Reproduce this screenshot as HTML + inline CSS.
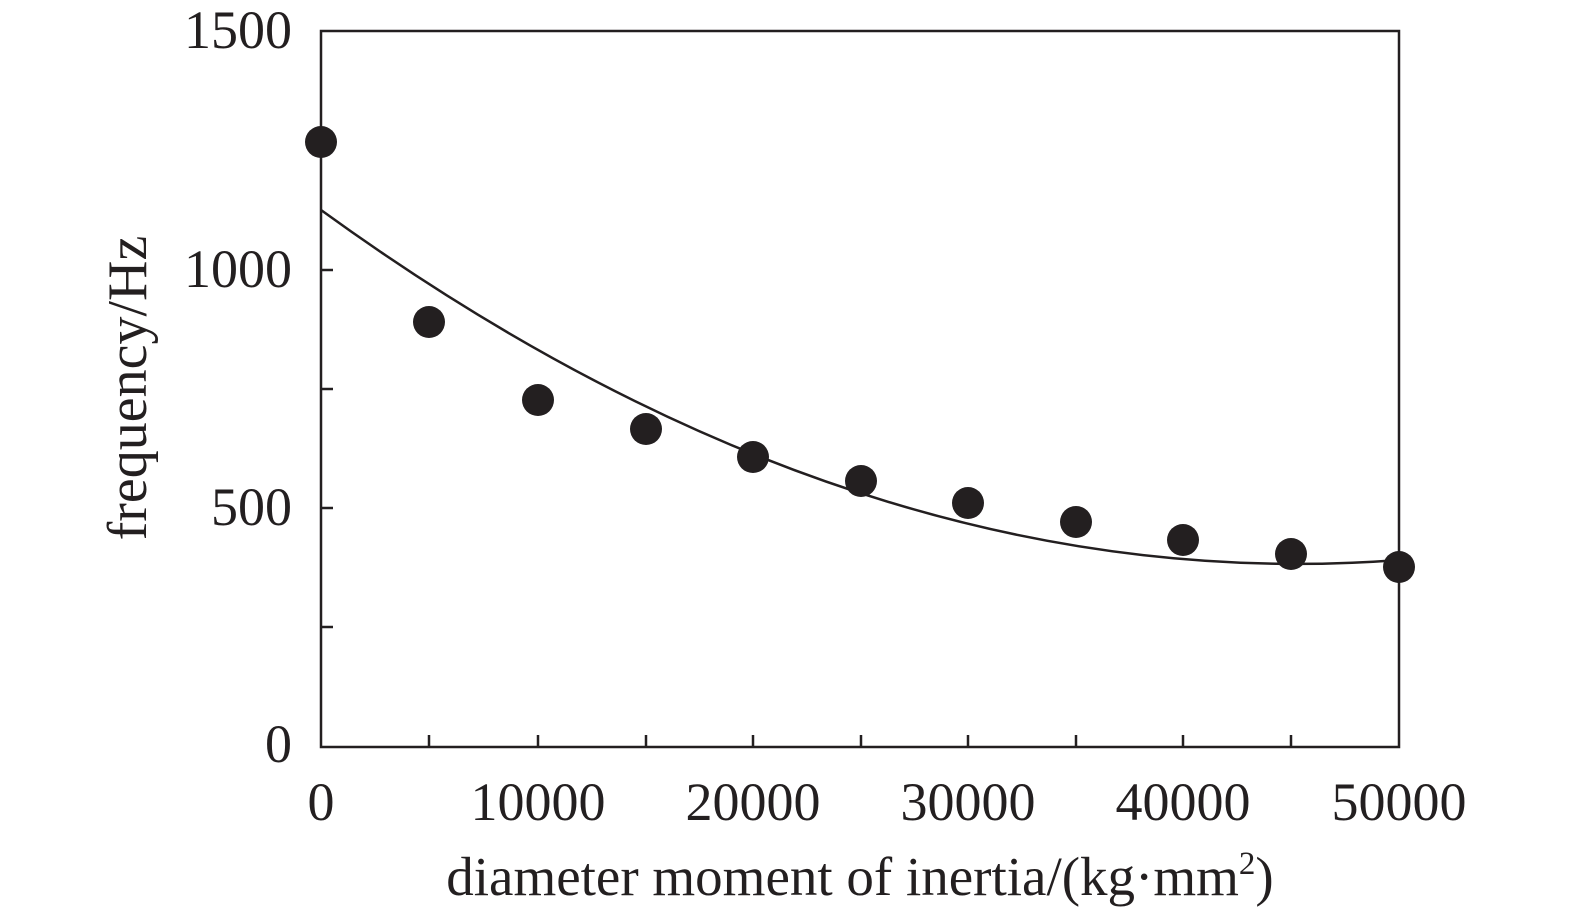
<!DOCTYPE html>
<html><head><meta charset="utf-8"><style>
html,body{margin:0;padding:0;background:#fff;}
svg{display:block;}
text{font-family:"Liberation Serif",serif;fill:#231f20;}
</style></head><body>
<svg width="1575" height="915" viewBox="0 0 1575 915" xmlns="http://www.w3.org/2000/svg">
<rect x="321" y="31" width="1078" height="716" fill="none" stroke="#231f20" stroke-width="2.5"/>
<g stroke="#231f20" stroke-width="2.5">
<line x1="321" y1="270" x2="333" y2="270"/>
<line x1="321" y1="389" x2="333" y2="389"/>
<line x1="321" y1="508" x2="333" y2="508"/>
<line x1="321" y1="627" x2="333" y2="627"/>
<line x1="429" y1="747" x2="429" y2="735"/>
<line x1="538" y1="747" x2="538" y2="735"/>
<line x1="646" y1="747" x2="646" y2="735"/>
<line x1="753" y1="747" x2="753" y2="735"/>
<line x1="861" y1="747" x2="861" y2="735"/>
<line x1="968" y1="747" x2="968" y2="735"/>
<line x1="1076" y1="747" x2="1076" y2="735"/>
<line x1="1183" y1="747" x2="1183" y2="735"/>
<line x1="1291" y1="747" x2="1291" y2="735"/>
</g>
<g font-size="54" text-anchor="end">
<text x="292" y="48">1500</text>
<text x="292" y="287">1000</text>
<text x="292" y="525">500</text>
<text x="292" y="762">0</text>
</g>
<g font-size="54" text-anchor="middle">
<text x="321" y="820">0</text>
<text x="538" y="820">10000</text>
<text x="753" y="820">20000</text>
<text x="968" y="820">30000</text>
<text x="1183" y="820">40000</text>
<text x="1399" y="820">50000</text>
</g>
<text font-size="55" text-anchor="middle" x="860" y="895">diameter moment of inertia/(kg·mm<tspan font-size="33" dy="-21">2</tspan><tspan dy="21">)</tspan></text>
<text font-size="56" text-anchor="middle" transform="translate(146,388) rotate(-90)">frequency/Hz</text>
<path d="M321 210 Q860 601 1399 560" fill="none" stroke="#231f20" stroke-width="2.5"/>
<g fill="#231f20">
<circle cx="321" cy="142" r="16"/>
<circle cx="429" cy="322" r="16"/>
<circle cx="538" cy="400" r="16"/>
<circle cx="646" cy="429" r="16"/>
<circle cx="753" cy="457" r="16"/>
<circle cx="861" cy="481" r="16"/>
<circle cx="968" cy="503" r="16"/>
<circle cx="1076" cy="522" r="16"/>
<circle cx="1183" cy="540" r="16"/>
<circle cx="1291" cy="554" r="16"/>
<circle cx="1399" cy="567" r="16"/>
</g>
</svg>
</body></html>
